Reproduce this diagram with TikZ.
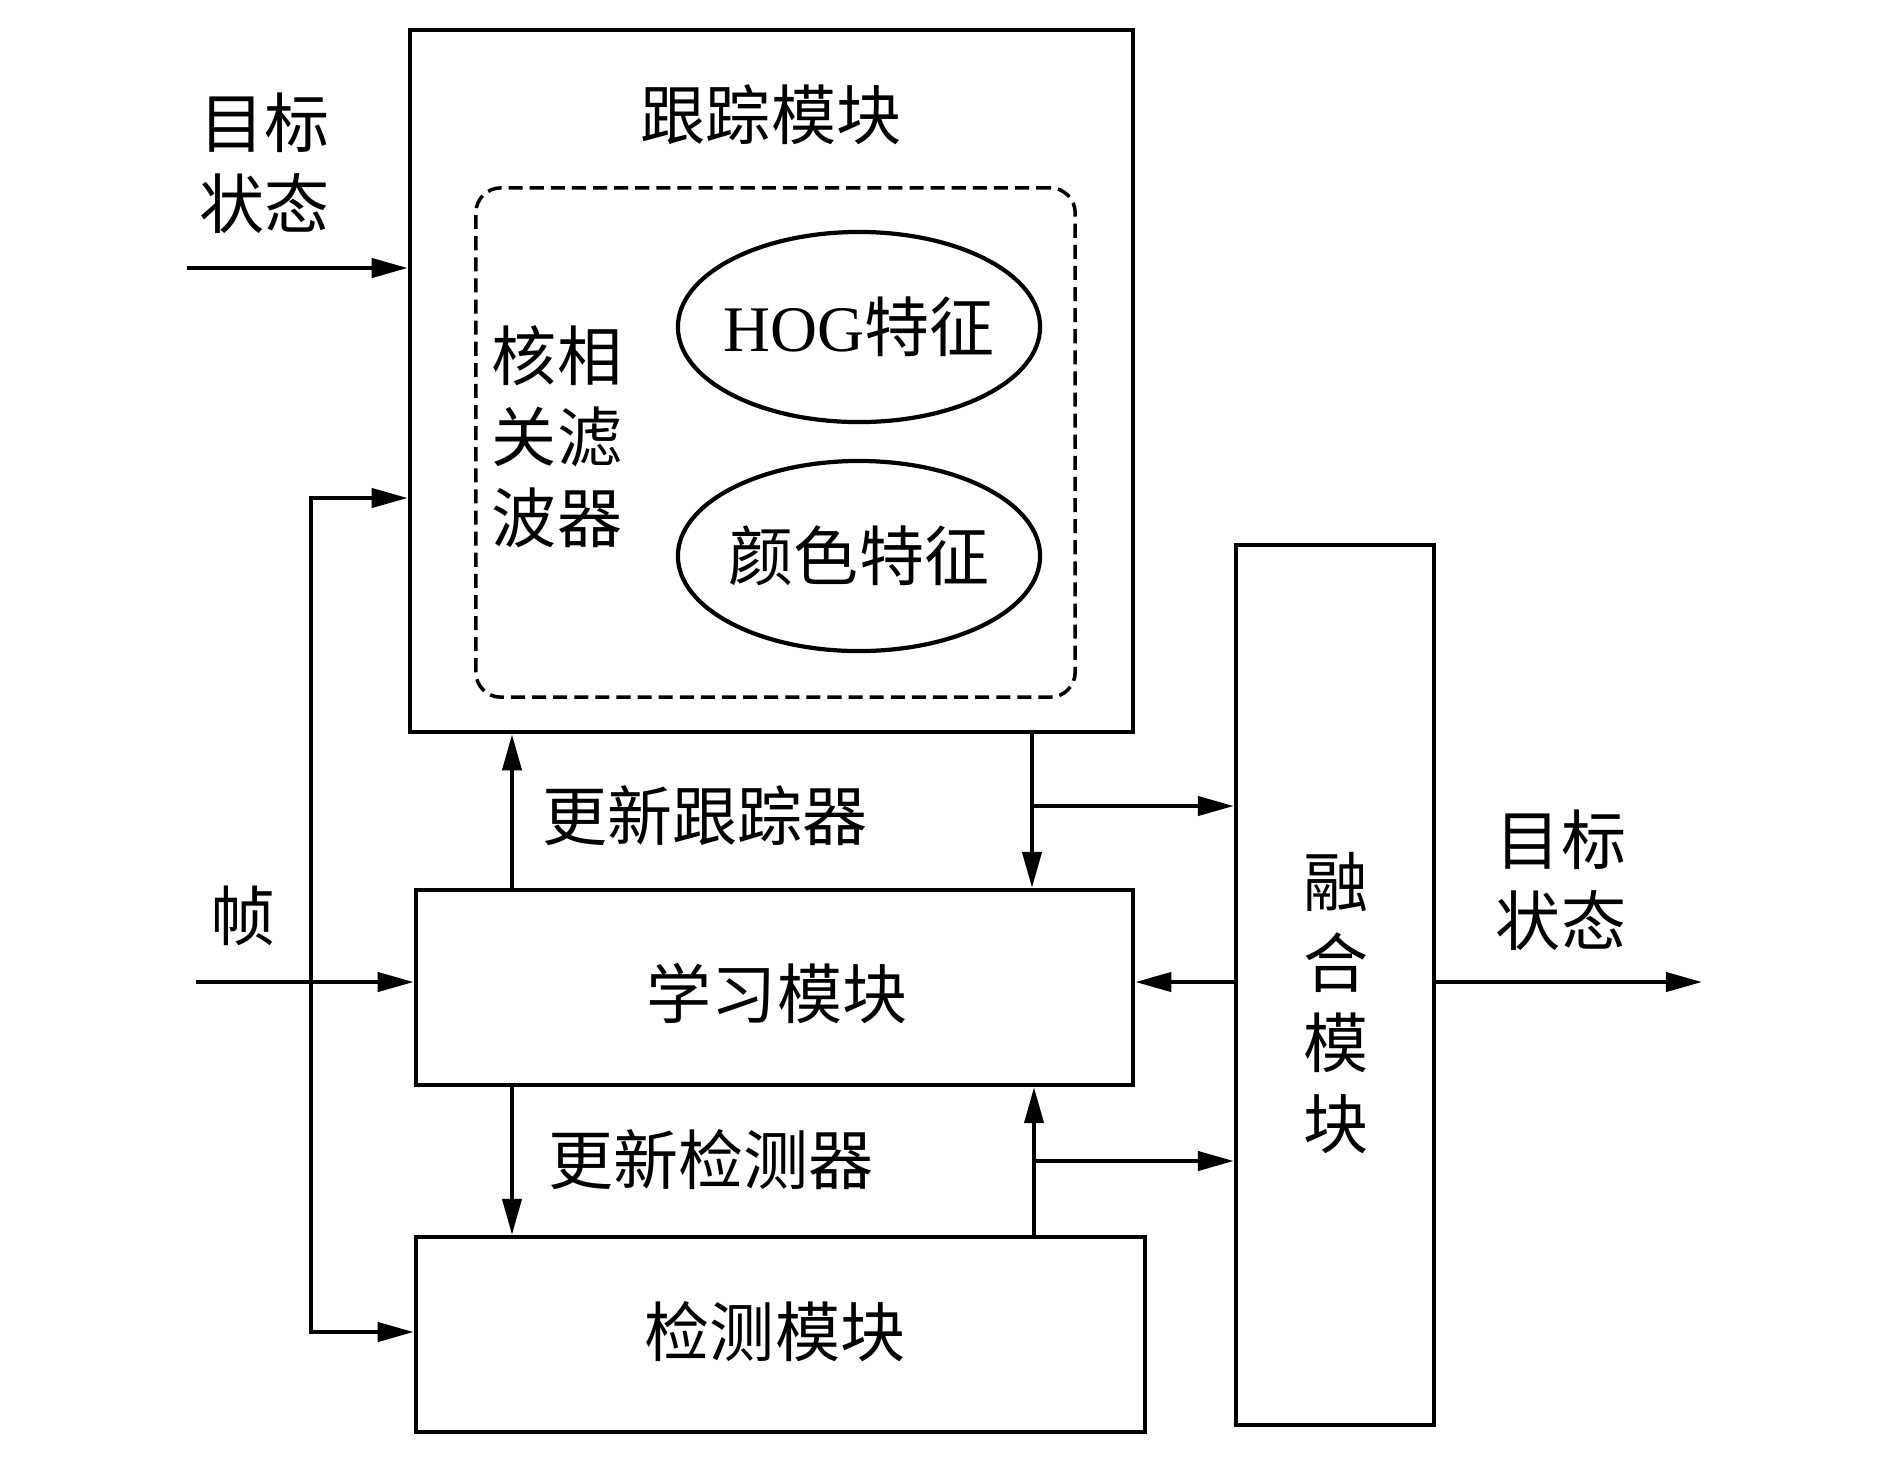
\documentclass[tikz,border=0pt]{standalone}
\usepackage{fontspec}
\setmainfont{Liberation Serif}
\newfontfamily\cjk{Noto Sans CJK SC}
\usetikzlibrary{arrows.meta,shapes.geometric,calc}
\begin{document}
\begin{tikzpicture}[x=0.01cm,y=-0.01cm, line width=1.2pt,
  box/.style={draw, rectangle, inner sep=0},
  lbl/.style={font=\cjk\fontsize{18.5}{23}\selectfont, inner sep=0, align=center},
  arr/.style={-{Triangle[length=0.36cm,width=0.19cm]}}]
\useasboundingbox (0,0) rectangle (1890,1465);

% boxes
\node[box, minimum width=7.23cm, minimum height=7.02cm] (track) at (771.5,381) {};
\node[box, dashed, dash pattern=on 4pt off 2pt, line width=1pt, rounded corners=0.25cm,
      minimum width=5.99cm, minimum height=5.09cm] (kcf) at (775.5,442.5) {};
\node[draw, ellipse, minimum width=3.62cm, minimum height=1.90cm, inner sep=0] (hog) at (859,327) {};
\node[draw, ellipse, minimum width=3.62cm, minimum height=1.90cm, inner sep=0] (col) at (859,556) {};
\node[box, minimum width=7.17cm, minimum height=1.95cm] (learn) at (774.5,987.5) {};
\node[box, minimum width=7.29cm, minimum height=1.95cm] (detect) at (780.5,1334.5) {};
\node[box, minimum width=1.98cm, minimum height=8.80cm] (fusion) at (1335,985) {};

% texts
\node[lbl] (ttitle) at (771,115) {跟踪模块};
\node[lbl] (tkcf) at (557,437) {核相\\关滤\\波器};
\node[lbl] (thog) at (859,327) {{\rmfamily HOG}特征};
\node[lbl] (tcol) at (859,556) {颜色特征};
\node[lbl] (tlearn) at (777,994) {学习模块};
\node[lbl] (tdetect) at (775,1332) {检测模块};
\node[lbl] (tfusion) at (1336,1003) {融\\合\\模\\块};
\node[lbl] (tin) at (265,163) {目标\\状态};
\node[lbl] (tout) at (1561,880) {目标\\状态};
\node[lbl] (tframe) at (243,916) {帧};
\node[lbl] (tut) at (705,816) {更新跟踪器};
\node[lbl] (tud) at (711,1160) {更新检测器};

% connectors
\coordinate (ts) at (187,268);
\draw[arr] (ts) -- (ts -| track.west);

\coordinate (fr) at (196,982);
\draw[arr] (fr) -- (fr -| learn.west);
\coordinate (ftop) at (311,498);
\coordinate (fbot) at (311,1332);
\draw[arr] (fbot) -- (ftop) -- (ftop -| track.west);
\draw[arr] (ftop) -- (fbot) -- (fbot -| detect.west);

\coordinate (ux) at (512,0);
\draw[arr] (learn.north -| ux) -- (track.south -| ux);
\draw[arr] (learn.south -| ux) -- (detect.north -| ux);

\coordinate (tx) at (1032,806);
\draw[arr] (track.south -| tx) -- (learn.north -| tx);
\draw[arr] (tx) -- (tx -| fusion.west);

\coordinate (dx) at (1034,1161);
\draw[arr] (detect.north -| dx) -- (learn.south -| dx);
\draw[arr] (dx) -- (dx -| fusion.west);

\coordinate (fy) at (0,982);
\draw[arr] (fusion.west |- fy) -- (learn.east |- fy);

\coordinate (out) at (1702,982);
\draw[arr] (fusion.east |- out) -- (out);
\end{tikzpicture}
\end{document}
